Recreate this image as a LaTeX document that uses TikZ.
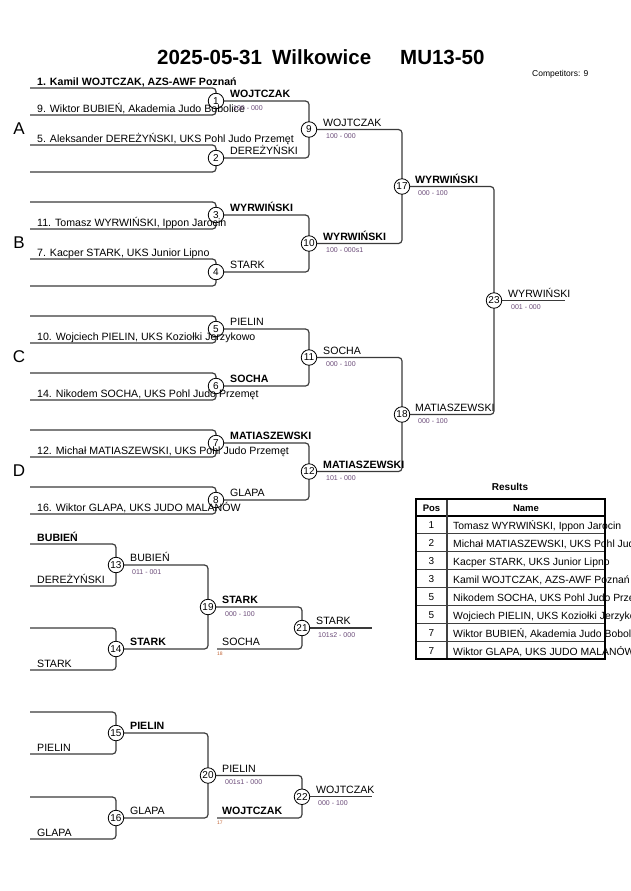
\documentclass[tikz,border=0pt]{standalone}
\usepackage{fontspec}
\setmainfont{Liberation Sans}
\definecolor{linecol}{HTML}{3A3A3A}
\definecolor{scorecol}{HTML}{6A4A78}
\definecolor{tinycol}{HTML}{C06030}
\begin{document}
\begin{tikzpicture}[x=1pt,y=-1pt,
  br/.style={draw=linecol, line width=1.2pt, rounded corners=3.5pt},
  circ/.style={circle, draw=black, line width=0.8pt, fill=white, minimum size=15.5pt, inner sep=0pt, font=\fontsize{10}{10}\selectfont},
  nm/.style={anchor=base west, inner sep=0pt, font=\fontsize{10.6}{12}\selectfont},
  nmb/.style={anchor=base west, inner sep=0pt, font=\fontsize{10.6}{12}\selectfont\bfseries},
  sc/.style={anchor=base west, inner sep=0pt, font=\fontsize{7}{8}\selectfont, text=scorecol},
  tiny/.style={anchor=base west, inner sep=0pt, font=\fontsize{5}{6}\selectfont, text=tinycol},
  pool/.style={anchor=base, inner sep=0pt, font=\fontsize{17}{18}\selectfont},
  ttl/.style={anchor=base west, inner sep=0pt, font=\fontsize{20.5}{22}\selectfont\bfseries},
  tbl/.style={line width=1.1pt, draw=black!75},
  cell/.style={anchor=base west, inner sep=0pt, font=\fontsize{10.4}{12}\selectfont},
]
\useasboundingbox (0,0) rectangle (630,891);

% ---------- coordinates ----------
\coordinate (p1) at (216,101); \coordinate (a1) at (30,88);  \coordinate (b1) at (30,115);
\coordinate (p2) at (216,158); \coordinate (a2) at (30,145); \coordinate (b2) at (30,172);
\coordinate (p3) at (216,215); \coordinate (a3) at (30,202); \coordinate (b3) at (30,229);
\coordinate (p4) at (216,272); \coordinate (a4) at (30,259); \coordinate (b4) at (30,286);
\coordinate (p5) at (216,329); \coordinate (a5) at (30,316); \coordinate (b5) at (30,343);
\coordinate (p6) at (216,386); \coordinate (a6) at (30,373); \coordinate (b6) at (30,400);
\coordinate (p7) at (216,443); \coordinate (a7) at (30,430); \coordinate (b7) at (30,457);
\coordinate (p8) at (216,500); \coordinate (a8) at (30,487); \coordinate (b8) at (30,514);
\coordinate (p9)  at (309,129.5);
\coordinate (p10) at (309,243.5);
\coordinate (p11) at (309,357.5);
\coordinate (p12) at (309,471.5);
\coordinate (p17) at (402,186.5);
\coordinate (p18) at (402,414.5);
\coordinate (p23) at (494,300.5);
\coordinate (f23) at (565,300.5);

\coordinate (p13) at (116,565); \coordinate (a13) at (30,544); \coordinate (b13) at (30,586);
\coordinate (p14) at (116,649); \coordinate (a14) at (30,628); \coordinate (b14) at (30,670);
\coordinate (p15) at (116,733); \coordinate (a15) at (30,712); \coordinate (b15) at (30,754);
\coordinate (p16) at (116,818); \coordinate (a16) at (30,797); \coordinate (b16) at (30,839);
\coordinate (p19) at (208,607);
\coordinate (p20) at (208,775.5);
\coordinate (p21) at (302,628);   \coordinate (s21) at (217,649); \coordinate (f21) at (372,628);
\coordinate (p22) at (302,796.75);\coordinate (s22) at (217,818); \coordinate (f22) at (372,796.75);

% ---------- title ----------
\node[ttl] (tt1) at (157,64) {2025-05-31};
\node[ttl] (tt2) at (272,64) {Wilkowice};
\node[ttl] (tt3) at (400,64) {MU13-50};
\node[anchor=base west, inner sep=0pt, font=\fontsize{8.5}{10}\selectfont] (comp) at (532,76) {Competitors: 9};

% ---------- pool letters ----------
\node[pool] (pA) at (19,134) {A};
\node[pool] (pB) at (19,248) {B};
\node[pool] (pC) at (19,362) {C};
\node[pool] (pD) at (19,476) {D};

% ---------- bracket lines ----------
\foreach \k in {1,...,8} { \draw[br] (a\k) -| (p\k) |- (b\k); }
\draw[br] (p1) -| (p9)  |- (p2);
\draw[br] (p3) -| (p10) |- (p4);
\draw[br] (p5) -| (p11) |- (p6);
\draw[br] (p7) -| (p12) |- (p8);
\draw[br] (p9)  -| (p17) |- (p10);
\draw[br] (p11) -| (p18) |- (p12);
\draw[br] (p17) -| (p23) |- (p18);
\draw[br] (p23) -- (f23);

\foreach \k in {13,...,16} { \draw[br] (a\k) -| (p\k) |- (b\k); }
\draw[br] (p13) -| (p19) |- (p14);
\draw[br] (p15) -| (p20) |- (p16);
\draw[br] (p19) -| (p21) |- (s21);
\draw[br] (p20) -| (p22) |- (s22);
\draw[br] (p21) -- (f21);
\draw[br] (p22) -- (f22);

% ---------- circles ----------
\foreach \k in {1,...,23} { \node[circ] (n\k) at (p\k) {\k}; }

% ---------- entry names ----------
\node[nmb] (e1a) at (37,85)  {1. Kamil WOJTCZAK, AZS-AWF Poznań};
\node[nm]  (e1b) at (37,112) {9. Wiktor BUBIEŃ, Akademia Judo Bobolice};
\node[nm]  (e2a) at (37,142) {5. Aleksander DEREŻYŃSKI, UKS Pohl Judo Przemęt};
\node[nm]  (e3b) at (37,226) {11. Tomasz WYRWIŃSKI, Ippon Jarocin};
\node[nm]  (e4a) at (37,256) {7. Kacper STARK, UKS Junior Lipno};
\node[nm]  (e5b) at (37,340) {10. Wojciech PIELIN, UKS Koziołki Jerzykowo};
\node[nm]  (e6b) at (37,397) {14. Nikodem SOCHA, UKS Pohl Judo Przemęt};
\node[nm]  (e7b) at (37,454) {12. Michał MATIASZEWSKI, UKS Pohl Judo Przemęt};
\node[nm]  (e8b) at (37,511) {16. Wiktor GLAPA, UKS JUDO MALANÓW};

% ---------- round 1 winners ----------
\node[nmb] (w1) at (230,97.5)  {WOJTCZAK};
\node[sc]  (s1) at (233,110)   {100 - 000};
\node[nm]  (w2) at (230,154.5) {DEREŻYŃSKI};
\node[nmb] (w3) at (230,211.5) {WYRWIŃSKI};
\node[nm]  (w4) at (230,268.5) {STARK};
\node[nm]  (w5) at (230,325.5) {PIELIN};
\node[nmb] (w6) at (230,382.5) {SOCHA};
\node[nmb] (w7) at (230,439.5) {MATIASZEWSKI};
\node[nm]  (w8) at (230,496.5) {GLAPA};

% ---------- round 2 winners ----------
\node[nm]  (w9)   at (323,126)   {WOJTCZAK};
\node[sc]  (s9)   at (326,138.5) {100 - 000};
\node[nmb] (w10)  at (323,240)   {WYRWIŃSKI};
\node[sc]  (s10)  at (326,252.5) {100 - 000s1};
\node[nm]  (w11)  at (323,354)   {SOCHA};
\node[sc]  (s11)  at (326,366.5) {000 - 100};
\node[nmb] (w12)  at (323,468)   {MATIASZEWSKI};
\node[sc]  (s12)  at (326,480.5) {101 - 000};

% ---------- round 3 ----------
\node[nmb] (w17)  at (415,183)   {WYRWIŃSKI};
\node[sc]  (s17)  at (418,195.5) {000 - 100};
\node[nm]  (w18)  at (415,411)   {MATIASZEWSKI};
\node[sc]  (s18)  at (418,423.5) {000 - 100};

% ---------- final ----------
\node[nm]  (w23)  at (508,297)   {WYRWIŃSKI};
\node[sc]  (s23)  at (511,309.5) {001 - 000};

% ---------- repechage ----------
\node[nmb] (r13a) at (37,541)  {BUBIEŃ};
\node[nm]  (r13b) at (37,583)  {DEREŻYŃSKI};
\node[nm]  (r14b) at (37,667)  {STARK};
\node[nm]  (r15b) at (37,751)  {PIELIN};
\node[nm]  (r16b) at (37,836)  {GLAPA};

\node[nm]  (w13)  at (130,561.5) {BUBIEŃ};
\node[sc]  (s13)  at (132,574)   {011 - 001};
\node[nmb] (w14)  at (130,645.5) {STARK};
\node[nmb] (w15)  at (130,729.5) {PIELIN};
\node[nm]  (w16)  at (130,814.5) {GLAPA};

\node[nmb] (w19)  at (222,603.5) {STARK};
\node[sc]  (s19)  at (225,616)   {000 - 100};
\node[nm]  (l21)  at (222,645.5) {SOCHA};
\node[tiny] (t18) at (217,655)   {18};
\node[nm]  (w20)  at (222,772)   {PIELIN};
\node[sc]  (s20)  at (225,784.5) {001s1 - 000};
\node[nmb] (l22)  at (222,814.5) {WOJTCZAK};
\node[tiny] (t17) at (217,824)   {17};

\node[nm]  (w21)  at (316,624.5) {STARK};
\node[sc]  (s21t) at (318,637)   {101s2 - 000};
\node[nm]  (w22)  at (316,793)   {WOJTCZAK};
\node[sc]  (s22t) at (318,805.5) {000 - 100};

% ---------- results table ----------
\node[anchor=base, inner sep=0pt, font=\fontsize{10}{12}\selectfont\bfseries] (rtitle) at (510,490) {Results};
\begin{scope}
\clip (447,499) rectangle (630,660);
\node[cell] (c1) at (453,529)   {Tomasz WYRWIŃSKI, Ippon Jarocin};
\node[cell] (c2) at (453,547)   {Michał MATIASZEWSKI, UKS Pohl Judo Przemęt};
\node[cell] (c3) at (453,565)   {Kacper STARK, UKS Junior Lipno};
\node[cell] (c4) at (453,583)   {Kamil WOJTCZAK, AZS-AWF Poznań};
\node[cell] (c5) at (453,601)   {Nikodem SOCHA, UKS Pohl Judo Przemęt};
\node[cell] (c6) at (453,619)   {Wojciech PIELIN, UKS Koziołki Jerzykowo};
\node[cell] (c7) at (453,637)   {Wiktor BUBIEŃ, Akademia Judo Bobolice};
\node[cell] (c8) at (453,655)   {Wiktor GLAPA, UKS JUDO MALANÓW};
\end{scope}
\foreach \i in {1,...,7} { \draw[tbl] (416,516+17.875*\i) -- (605,516+17.875*\i); }
\draw[line width=1.4pt] (416,516) -- (605,516);
\draw[tbl] (447,499) -- (447,659);
\draw[line width=1.8pt] (416,499) rectangle (605,659);
\node[anchor=base, inner sep=0pt, font=\fontsize{9.5}{11}\selectfont\bfseries] (hpos) at (431.5,511) {Pos};
\node[anchor=base, inner sep=0pt, font=\fontsize{9.5}{11}\selectfont\bfseries] (hname) at (526,511) {Name};
\foreach \i/\p in {1/1,2/2,3/3,4/3,5/5,6/5,7/7,8/7} {
  \node[anchor=base, inner sep=0pt, font=\fontsize{10}{12}\selectfont] (pos\i) at (431.5,511+17.875*\i) {\p};
}
\end{tikzpicture}
\end{document}
